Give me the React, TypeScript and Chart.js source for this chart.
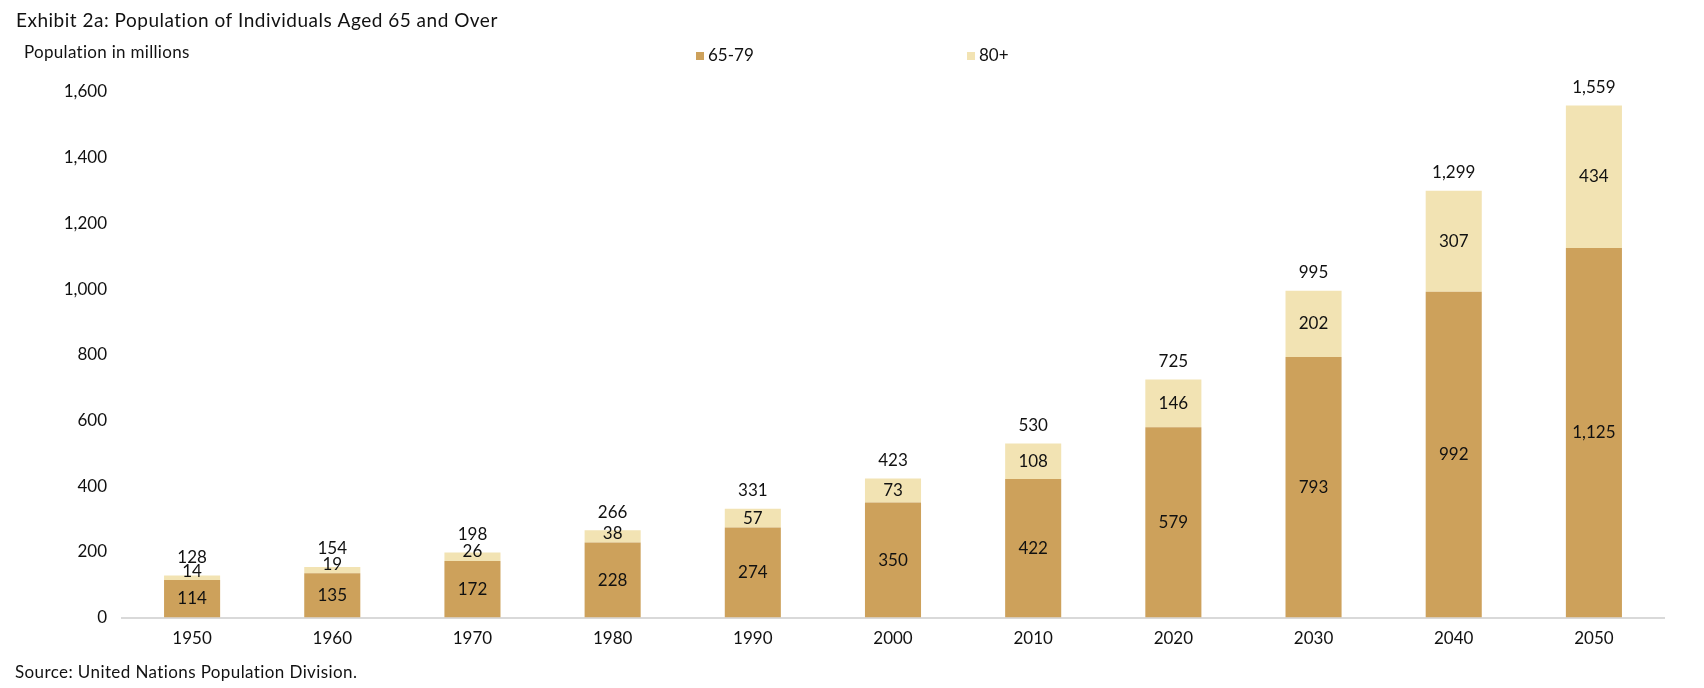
import React, { useEffect, useRef } from "react";
import { Chart, registerables } from "chart.js";

Chart.register(...registerables);

const years = ["1950", "1960", "1970", "1980", "1990", "2000", "2010", "2020", "2030", "2040", "2050"];
const age65to79 = [114, 135, 172, 228, 274, 350, 422, 579, 793, 992, 1125];
const age80plus = [14, 19, 26, 38, 57, 73, 108, 146, 202, 307, 434];
const totals = [128, 154, 198, 266, 331, 423, 530, 725, 995, 1299, 1559];
const seriesNames = ["65-79", "80+"];
const seriesColors = ["#CDA15B", "#F2E3B3"];

const titleText = "Exhibit 2a: Population of Individuals Aged 65 and Over";
const yTitleText = "Population in millions";
const sourceText = "Source: United Nations Population Division.";

const FONT = "Lato, 'Noto Sans', sans-serif";
const TEXT = "#111111";
const fmt = (v: number) => v.toLocaleString("en-US");

const textPlugin = {
  id: "textPlugin",
  afterDraw(chart: any) {
    const ctx = chart.ctx as any;
    ctx.save();
    ctx.fillStyle = TEXT;
    ctx.textBaseline = "middle";
    ctx.textAlign = "left";
    ctx.font = `19px ${FONT}`;
    ctx.letterSpacing = "0.5px";
    ctx.fillText(titleText, 16, 21);
    ctx.font = `17px ${FONT}`;
    ctx.letterSpacing = "0.3px";
    ctx.fillText(yTitleText, 24, 53);
    ctx.letterSpacing = "0.4px";
    ctx.fillText(sourceText, 15, 673);
    ctx.letterSpacing = "0px";

    // legend
    const legendX = [696, 967];
    seriesNames.forEach((name, i) => {
      ctx.fillStyle = seriesColors[i];
      ctx.fillRect(legendX[i], 52, 8, 8);
      ctx.fillStyle = TEXT;
      ctx.font = `17px ${FONT}`;
      ctx.fillText(name, legendX[i] + 12, 56);
    });
    ctx.restore();
  },
};

const labelPlugin = {
  id: "labelPlugin",
  afterDatasetsDraw(chart: any) {
    const ctx = chart.ctx as CanvasRenderingContext2D;
    ctx.save();
    ctx.fillStyle = TEXT;
    ctx.textAlign = "center";
    ctx.textBaseline = "middle";
    ctx.font = `17px ${FONT}`;
    chart.data.datasets.forEach((ds: any, di: number) => {
      const meta = chart.getDatasetMeta(di);
      meta.data.forEach((el: any, i: number) => {
        const top = el.y;
        const base = el.base;
        const y = Math.min((top + base) / 2, base - 9);
        ctx.fillText(fmt(ds.data[i]), el.x, y);
      });
    });
    const lastMeta = chart.getDatasetMeta(chart.data.datasets.length - 1);
    lastMeta.data.forEach((el: any, i: number) => {
      ctx.fillText(fmt(totals[i]), el.x, el.y - 18);
    });
    ctx.restore();
  },
};

export default function App() {
  const canvasRef = useRef<HTMLCanvasElement | null>(null);

  useEffect(() => {
    if (!canvasRef.current) return;
    const chart = new Chart(canvasRef.current, {
      type: "bar",
      data: {
        labels: years,
        datasets: [
          {
            label: seriesNames[0],
            data: age65to79,
            backgroundColor: seriesColors[0],
            borderWidth: 0,
            barPercentage: 0.4,
            categoryPercentage: 1,
          },
          {
            label: seriesNames[1],
            data: age80plus,
            backgroundColor: seriesColors[1],
            borderWidth: 0,
            barPercentage: 0.4,
            categoryPercentage: 1,
          },
        ],
      },
      options: {
        animation: false,
        responsive: true,
        maintainAspectRatio: false,
        layout: { padding: { left: 0, right: 40, top: 92, bottom: 30.5 } },
        plugins: {
          legend: { display: false },
          title: { display: false },
          tooltip: { enabled: false },
        },
        scales: {
          x: {
            stacked: true,
            grid: { display: false, drawTicks: false },
            border: { display: true, color: "#D9D9D9", width: 2 },
            ticks: { color: TEXT, font: { family: FONT, size: 17 }, padding: 11, maxRotation: 0 },
            afterFit: (scale: any) => {
              scale.height = 40;
            },
          },
          y: {
            stacked: true,
            min: 0,
            max: 1600,
            grid: { display: false, drawTicks: false },
            border: { display: false },
            ticks: {
              stepSize: 200,
              color: TEXT,
              font: { family: FONT, size: 17 },
              padding: 15,
              callback: (v: any) => fmt(Number(v)),
            },
            afterFit: (scale: any) => {
              scale.width = 122;
            },
          },
        },
      },
      plugins: [labelPlugin, textPlugin],
    });
    return () => chart.destroy();
  }, []);

  return (
    <div style={{ position: "fixed", left: 0, top: 0, width: 1704, height: 688, background: "#fff" }}>
      <canvas ref={canvasRef} />
    </div>
  );
}
